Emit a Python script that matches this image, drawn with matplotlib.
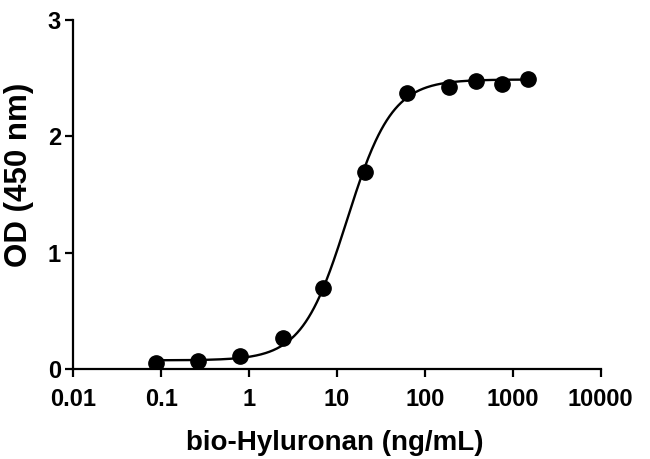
import numpy as np
import matplotlib
matplotlib.use("Agg")
import matplotlib.pyplot as plt

# Data
conc = [0.086, 0.265, 0.78, 2.4, 7.0, 20.7, 63, 186, 378, 760, 1480]
od = [0.052, 0.066, 0.115, 0.264, 0.698, 1.694, 2.377, 2.426, 2.475, 2.455, 2.492]

# 4PL fit parameters (estimated from the drawn curve)
bottom, top, ec50, hill = 0.075, 2.49, 13.0, 1.7

x_ticks = [0.01, 0.1, 1, 10, 100, 1000, 10000]
x_tick_labels = ["0.01", "0.1", "1", "10", "100", "1000", "10000"]
y_ticks = [0, 1, 2, 3]
y_tick_labels = ["0", "1", "2", "3"]

plt.rcParams['font.family'] = ['Liberation Sans', 'DejaVu Sans']
plt.rcParams['font.weight'] = 'bold'

fig = plt.figure(figsize=(6.5, 4.59), dpi=100)
ax = fig.add_axes([0.113, 0.196, 0.811, 0.760])

xc = np.logspace(np.log10(conc[0]), np.log10(conc[-1]), 400)
yc = bottom + (top - bottom) / (1 + (ec50 / xc) ** hill)
ax.plot(xc, yc, color='black', lw=1.7, zorder=2)
ax.plot(conc, od, 'o', color='black', ms=11, zorder=3)

ax.set_xscale('log')
ax.set_xlim(0.01, 10000)
ax.set_ylim(0, 3)
ax.set_xticks(x_ticks)
ax.set_xticklabels(x_tick_labels)
ax.xaxis.set_minor_locator(matplotlib.ticker.NullLocator())
ax.set_yticks(y_ticks)
ax.set_yticklabels(y_tick_labels)

for s in ['top', 'right']:
    ax.spines[s].set_visible(False)
for s in ['left', 'bottom']:
    ax.spines[s].set_linewidth(1.6)
ax.tick_params(axis='both', direction='out', length=6, width=1.6,
               labelsize=17)
ax.tick_params(axis='x', pad=8)
ax.tick_params(axis='y', pad=3)
for lab in ax.get_xticklabels() + ax.get_yticklabels():
    lab.set_fontweight('bold')

ax.set_xlabel('bio-Hyluronan (ng/mL)', fontsize=20, fontweight='bold')
ax.set_ylabel('OD (450 nm)', fontsize=22.5, fontweight='bold')
ax.xaxis.set_label_coords(0.495, -0.175)
ax.yaxis.set_label_coords(-0.074, 0.556)

fig.savefig('out.png', dpi=100)
